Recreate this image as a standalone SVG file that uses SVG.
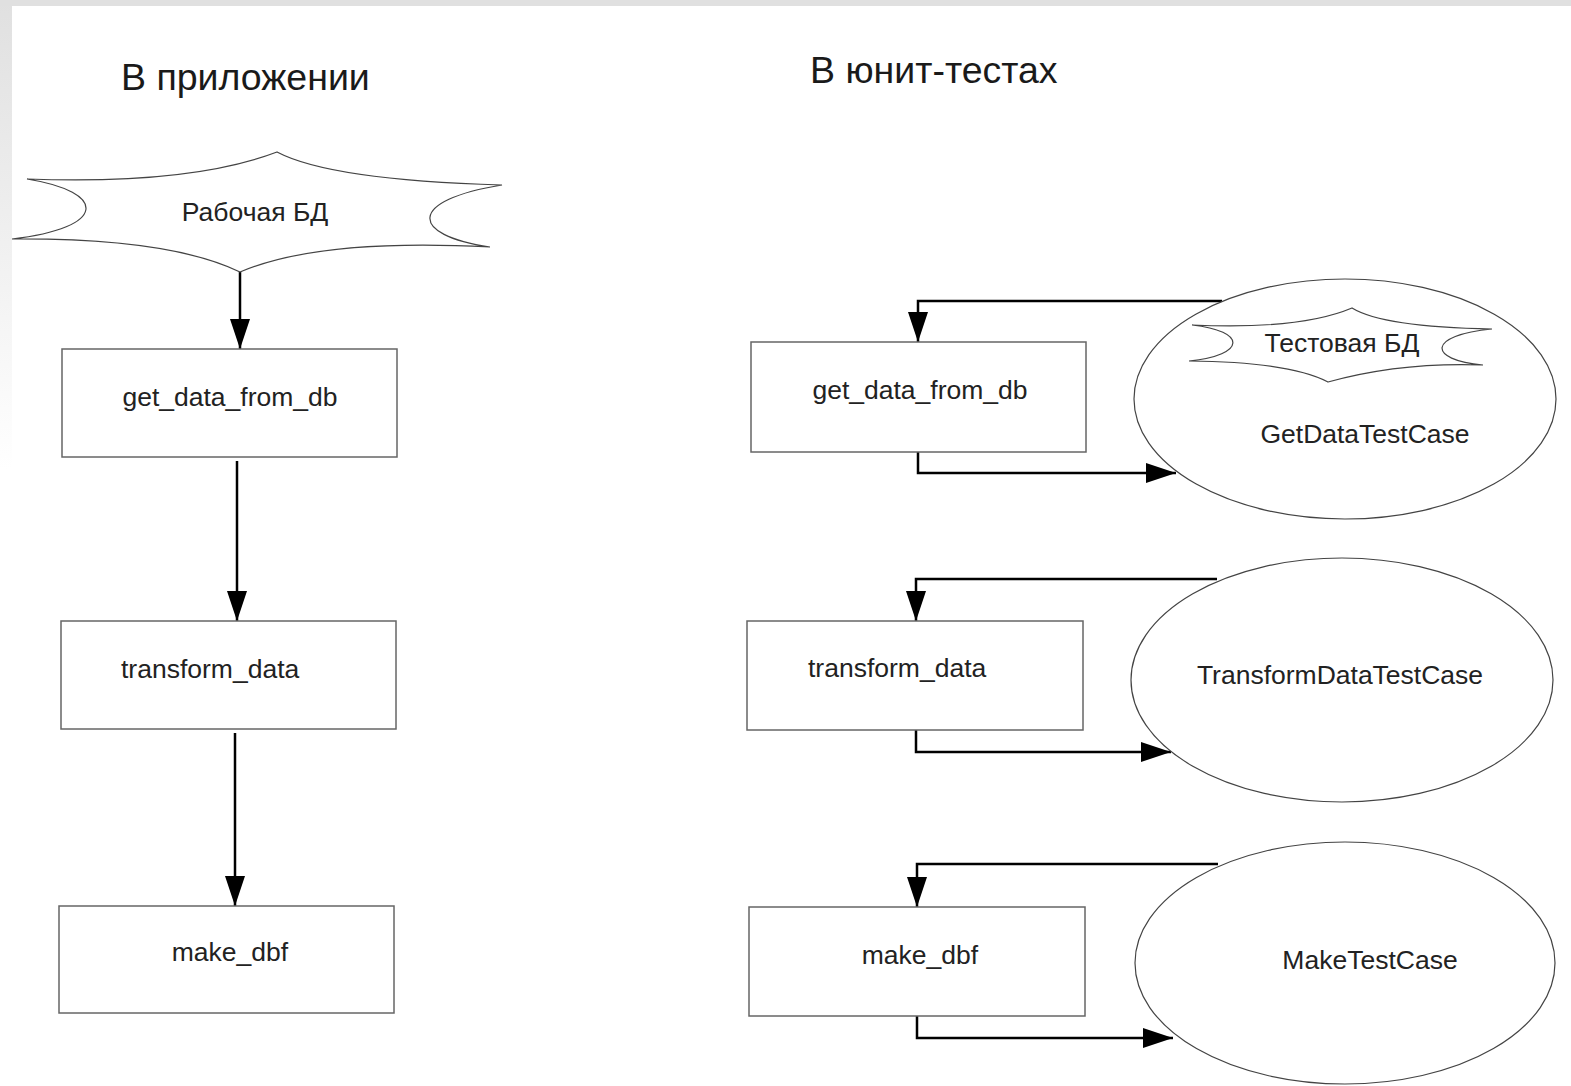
<svg xmlns="http://www.w3.org/2000/svg" width="1571" height="1086" viewBox="0 0 1571 1086">
<defs>
<linearGradient id="side" x1="0" y1="0" x2="0" y2="470" gradientUnits="userSpaceOnUse">
<stop offset="0" stop-color="#e0e0e0"/>
<stop offset="1" stop-color="#ffffff"/>
</linearGradient>
<marker id="arr" markerUnits="userSpaceOnUse" markerWidth="30" markerHeight="20" refX="30" refY="10" orient="auto" viewBox="0 0 30 20">
<path d="M0,0 L30,10 L0,20 z" fill="#000"/>
</marker>
<style>
.box{fill:#fff;stroke:#666;stroke-width:1.5}
.ell{fill:#fff;stroke:#444;stroke-width:1.2}
.star{fill:#fff;stroke:#444;stroke-width:1.2}
.lbl{font-family:"Liberation Sans",Arial,sans-serif;font-size:26.5px;fill:#222}
.title{font-family:"Liberation Sans",Arial,sans-serif;font-size:37.5px;fill:#1a1a1a}
.con{fill:none;stroke:#000;stroke-width:2.5;marker-end:url(#arr)}
</style>
</defs>
<rect width="1571" height="1086" fill="#fff"/>
<rect x="0" y="0" width="12" height="1086" fill="url(#side)"/>
<rect x="0" y="0" width="1571" height="6" fill="#e0e0e0"/>

<text class="title" x="121" y="90">В приложении</text>
<text class="title" x="810" y="83">В юнит-тестах</text>

<g id="connectors">
<path class="con" d="M240,272 L240,349"/>
<path class="con" d="M237,461 L237,621"/>
<path class="con" d="M235,733 L235,906"/>
<path class="con" d="M1222,301 L918,301 L918,342"/>
<path class="con" d="M918,452 L918,473 L1176,473"/>
<path class="con" d="M1217,579 L916,579 L916,621"/>
<path class="con" d="M916,730 L916,752 L1171,752"/>
<path class="con" d="M1218,864 L917,864 L917,907"/>
<path class="con" d="M917,1016 L917,1038 L1173,1038"/>
</g>

<g id="prod-db">
<path class="star" d="M27,179 Q190,185 277,152 Q330,180 502,185 C408,200 408,235 490,247 Q320,238 240,272 Q170,238 12,239 C108,228 108,192 27,179 Z"/>
<text class="lbl" x="255" y="221" text-anchor="middle">Рабочая БД</text>
</g>

<g id="app-get">
<rect class="box" x="62" y="349" width="335" height="108"/>
<text class="lbl" x="230" y="406" text-anchor="middle">get_data_from_db</text>
</g>
<g id="app-transform">
<rect class="box" x="61" y="621" width="335" height="108"/>
<text class="lbl" x="121" y="678">transform_data</text>
</g>
<g id="app-make">
<rect class="box" x="59" y="906" width="335" height="107"/>
<text class="lbl" x="230" y="961" text-anchor="middle">make_dbf</text>
</g>

<g id="test-get">
<rect class="box" x="751" y="342" width="335" height="110"/>
<text class="lbl" x="920" y="399" text-anchor="middle">get_data_from_db</text>
</g>
<g id="test-transform">
<rect class="box" x="747" y="621" width="336" height="109"/>
<text class="lbl" x="808" y="677">transform_data</text>
</g>
<g id="test-make">
<rect class="box" x="749" y="907" width="336" height="109"/>
<text class="lbl" x="920" y="964" text-anchor="middle">make_dbf</text>
</g>

<g id="getdata-testcase">
<ellipse class="ell" cx="1345" cy="399" rx="211" ry="120"/>
<path class="star" d="M1192,325 Q1300,330 1352,308 Q1383,327 1492,329 C1427,335 1427,360 1483,365 Q1400,362 1328,382 Q1290,362 1189,361 C1247,355 1247,331 1192,325 Z"/>
<text class="lbl" x="1342" y="352" text-anchor="middle">Тестовая БД</text>
<text class="lbl" x="1365" y="443" text-anchor="middle">GetDataTestCase</text>
</g>
<g id="transform-testcase">
<ellipse class="ell" cx="1342" cy="680" rx="211" ry="122"/>
<text class="lbl" x="1340" y="684" text-anchor="middle">TransformDataTestCase</text>
</g>
<g id="make-testcase">
<ellipse class="ell" cx="1345" cy="963" rx="210" ry="121"/>
<text class="lbl" x="1370" y="969" text-anchor="middle">MakeTestCase</text>
</g>
</svg>
